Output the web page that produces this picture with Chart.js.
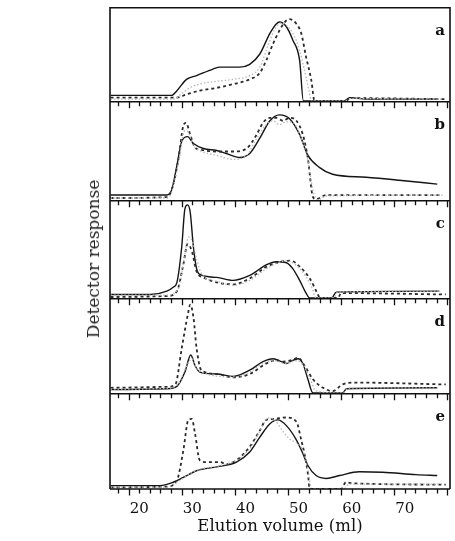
<!DOCTYPE html>
<html>
<head>
<meta charset="utf-8">
<script src="https://cdn.jsdelivr.net/npm/chart.js@4.4.1/dist/chart.umd.min.js"></script>
<style>
  body { margin: 0; background: #fff; }
  #wrap { position: relative; width: 455px; height: 541px; background: #fff; overflow: hidden; }
  #wrap canvas { position: absolute; left: 100px; }
  #ylab {
    position: absolute; left: 93px; top: 259px;
    transform: translate(-50%, -50%) rotate(-90deg);
    white-space: nowrap; font: 17px "DejaVu Serif", serif; color: #222;
  }
</style>
</head>
<body>
<div id="wrap">
  <canvas id="pa"></canvas>
  <canvas id="pb"></canvas>
  <canvas id="pc"></canvas>
  <canvas id="pd"></canvas>
  <canvas id="pe"></canvas>
  <div id="ylab">Detector response</div>
</div>
<script>
// elution volume (ml) vs normalised detector response
var xTickLabels = [20, 30, 40, 50, 60, 70];
var panelLetters = ['a', 'b', 'c', 'd', 'e'];

var aSolid = [[14.6,.06],[26.1,.06],[27.1,.11],[28.9,.23],[30.8,.27],[33.9,.34],[35.2,.36],[38.9,.36],[40.8,.39],[42.7,.50],[44.6,.72],[45.8,.82],[46.4,.84],[47.7,.79],[48.9,.65],[50.2,.43],[50.9,0],[58.6,0],[59.6,.036],[62.7,.02],[75.8,.02]];
var aDashed = [[14.6,.036],[27.1,.036],[28.9,.07],[31.4,.11],[34.6,.14],[37.7,.18],[40.8,.23],[42.7,.30],[43.9,.43],[45.2,.61],[46.4,.75],[47.4,.84],[48.3,.87],[49.6,.82],[50.5,.72],[51.4,.47],[52.4,.22],[53.0,0],[58.8,0],[59.8,.03],[77.5,.02]];
var aDotted = [[14.6,.02],[26.6,.02],[28.0,.08],[29.8,.15],[31.4,.18],[34.6,.21],[37.7,.23],[40.8,.27],[42.7,.36],[44.3,.60],[45.5,.76],[46.7,.83],[48.0,.79],[49.6,.64],[50.8,.40],[52.0,.10],[52.4,0],[58.6,0],[59.8,.025],[77,.02]];

var bSolid = [[14.6,.05],[25.2,.05],[26.1,.10],[27.1,.35],[28.0,.59],[29.1,.64],[30.2,.57],[32.1,.52],[34.6,.50],[36.4,.47],[38.9,.43],[40.8,.47],[42.7,.625],[44.6,.80],[46.4,.86],[48.3,.82],[50.2,.66],[51.75,.45],[53.9,.33],[56.4,.26],[62.7,.23],[68.9,.20],[76.1,.16]];
var bDashed = [[14.6,.02],[25.2,.03],[26.1,.10],[27.4,.42],[28.3,.75],[28.8,.78],[29.6,.66],[30.5,.53],[31.4,.51],[34.6,.49],[37.7,.49],[40.2,.52],[42.1,.66],[43.3,.78],[44.6,.83],[45.8,.83],[47.1,.80],[48.3,.83],[49.6,.80],[50.8,.66],[51.75,.42],[52.7,.03],[53.3,.01],[55.2,.05],[77.1,.05]];
var bDotted = [[14.6,.02],[25.2,.02],[26.1,.08],[27.4,.38],[28.6,.70],[29.3,.68],[30.2,.55],[31.4,.50],[34.6,.45],[37.7,.41],[40.2,.45],[42.1,.62],[43.9,.76],[45.2,.80],[46.4,.76],[47.7,.79],[49.0,.78],[50.5,.62],[51.75,.40],[52.7,.10],[53.6,0],[55.2,.04],[77,.05]];

var cSolid = [[14.6,.036],[22.1,.036],[25.2,.07],[26.4,.11],[27.1,.16],[28.0,.52],[28.6,.91],[29.1,.95],[29.6,.875],[30.2,.52],[30.8,.30],[31.4,.24],[34.6,.21],[37.7,.18],[40.8,.23],[44.0,.34],[45.8,.37],[47.7,.36],[48.9,.30],[50.2,.18],[51.4,.05],[52.1,0],[56.2,0],[57.1,.06],[76.5,.07]];
var cDashed = [[14.6,.01],[25.2,.02],[27.1,.07],[28.3,.34],[29.1,.55],[29.9,.48],[30.8,.27],[32.1,.21],[37.7,.14],[40.8,.20],[44.0,.32],[47.1,.375],[48.6,.38],[50.2,.32],[52.1,.20],[53.6,.04],[54.0,0],[57.4,0],[58.0,.05],[77.7,.036]];
var cDotted = [[14.6,.03],[25.2,.03],[27.4,.10],[28.6,.45],[29.3,.62],[30.0,.58],[30.8,.40],[31.8,.24],[34.6,.17],[37.7,.13],[40.8,.18],[44.0,.30],[47.7,.38],[50.2,.30],[52.4,.12],[53.3,0],[56.5,0],[57.4,.06],[76.5,.07]];

var dSolid = [[14.6,.036],[25.2,.044],[27.1,.07],[28.6,.22],[29.7,.40],[30.5,.29],[31.4,.22],[34.6,.20],[37.7,.175],[40.8,.24],[43.3,.33],[45.2,.36],[46.8,.33],[47.7,.31],[48.6,.335],[49.9,.36],[50.8,.31],[51.75,.145],[52.7,0],[58.3,0],[59.0,.044],[76.1,.055]];
var dDashed = [[14.6,.055],[25.2,.065],[26.8,.09],[28.0,.47],[29.2,.84],[29.6,.93],[30.2,.80],[30.8,.47],[31.7,.24],[34.6,.20],[37.7,.165],[40.8,.20],[43.9,.31],[45.8,.345],[47.1,.33],[48.6,.345],[49.9,.37],[51.1,.29],[52.7,.145],[54.6,.055],[56.4,.02],[58.3,.09],[60.2,.11],[77.7,.09]];
var dDotted = [[14.6,.04],[25.2,.05],[27.4,.10],[28.9,.28],[29.9,.36],[30.8,.26],[31.7,.22],[37.7,.17],[40.8,.22],[43.3,.31],[45.5,.34],[47.4,.31],[49.6,.34],[50.8,.30],[52.1,.16],[53.3,.02],[58.3,0],[59.3,.05],[76,.055]];

var eSolid = [[14.6,.035],[23.9,.035],[26.4,.07],[28.3,.12],[30.8,.19],[34.6,.23],[38.3,.28],[40.8,.385],[42.7,.54],[44.6,.68],[46.1,.72],[47.7,.66],[49.6,.51],[50.8,.37],[51.75,.245],[53.3,.14],[55.2,.11],[57.7,.14],[61.4,.18],[65.8,.175],[72.1,.15],[76.1,.14]];
var eDashed = [[14.6,.017],[25.2,.025],[27.1,.09],[28.3,.40],[29.25,.72],[29.9,.73],[30.5,.58],[31.4,.30],[32.7,.28],[35.2,.28],[36.4,.26],[38.3,.30],[40.8,.44],[42.7,.61],[43.9,.72],[45.2,.73],[47.7,.745],[49.6,.70],[50.5,.51],[51.1,.37],[51.75,.16],[52.1,0],[58.0,0],[58.9,.07],[60.2,.06],[77.7,.045]];
var eDotted = [[14.6,.02],[25.2,.02],[27.4,.08],[29.0,.14],[31.0,.20],[35.0,.24],[38.3,.30],[40.8,.42],[42.7,.60],[44.3,.74],[45.5,.72],[46.8,.62],[48.3,.52],[49.9,.47],[51.1,.36],[51.9,.15],[52.4,0],[58.5,0],[59.5,.05],[77,.05]];

var panelSeries = [
  [aSolid, aDashed, aDotted],
  [bSolid, bDashed, bDotted],
  [cSolid, cDashed, cDotted],
  [dSolid, dDashed, dDotted],
  [eSolid, eDashed, eDotted]
];

// layout (px): canvases butt against each other, no overlap
var panelTop = [7, 101, 200, 298, 393];
var panelBottom = [101, 200, 298, 393, 489];
var ids = ['pa', 'pb', 'pc', 'pd', 'pe'];

function tickRow(ctx, xs, y) {
  ctx.beginPath();
  for (var v = 16; v <= 78; v += 2) {
    var px = Math.round(xs.getPixelForValue(v)) + 0.5;
    var len = ((v - 8) % 10 === 0) ? 6.5 : 4.5;
    ctx.moveTo(px, y);
    ctx.lineTo(px, y + len);
  }
  ctx.stroke();
}

function makeFrame(letter, first, last) {
  return {
    id: 'frameTicks',
    afterDraw: function(chart) {
      var ctx = chart.ctx, a = chart.chartArea, xs = chart.scales.x;
      ctx.save();
      ctx.strokeStyle = '#111';
      ctx.lineWidth = 1.6;
      var yTop = a.top + 0.8;
      ctx.beginPath();
      ctx.moveTo(a.left, yTop); ctx.lineTo(a.right, yTop);
      ctx.moveTo(a.left, a.top); ctx.lineTo(a.left, a.bottom);
      ctx.moveTo(a.right, a.top); ctx.lineTo(a.right, a.bottom);
      if (last) { ctx.moveTo(a.left, a.bottom); ctx.lineTo(a.right, a.bottom); }
      ctx.stroke();
      ctx.lineWidth = 1.3;
      // the axis above this panel has its ticks hanging down into it
      if (!first) tickRow(ctx, xs, yTop);
      if (last) tickRow(ctx, xs, a.bottom);
      ctx.fillStyle = '#111';
      ctx.font = 'bold 15px "DejaVu Serif", serif';
      ctx.textAlign = 'right';
      ctx.textBaseline = 'alphabetic';
      ctx.fillText(letter, a.right - 5, a.top + 28);
      ctx.restore();
    }
  };
}

function lineSet(pts, kind) {
  var ds = {
    data: pts.map(function(p) { return { x: p[0], y: p[1] }; }),
    pointRadius: 0,
    fill: false,
    cubicInterpolationMode: 'monotone'
  };
  if (kind === 0) { ds.borderColor = '#141414'; ds.borderWidth = 1.4; }
  if (kind === 1) { ds.borderColor = '#2a2a2a'; ds.borderWidth = 1.8; ds.borderDash = [3, 3]; }
  if (kind === 2) { ds.borderColor = '#b8b8b8'; ds.borderWidth = 1.3; ds.borderDash = [1.5, 2]; }
  return ds;
}

function makePanel(i) {
  var first = (i === 0), last = (i === 4);
  var cv = document.getElementById(ids[i]);
  var cTop = first ? 0 : panelTop[i];
  var cBottom = last ? 541 : panelBottom[i];
  cv.width = 355; cv.height = cBottom - cTop;
  cv.style.top = cTop + 'px';

  var xScale = {
    type: 'linear',
    min: 14.5,
    max: 78.5,
    display: last,
    grid: { display: false },
    border: { display: false },
    afterBuildTicks: function(scale) {
      scale.ticks = xTickLabels.map(function(v) { return { value: v }; });
    },
    ticks: {
      padding: 3,
      color: '#111',
      font: { family: 'DejaVu Serif', size: 15 }
    },
    title: {
      display: true,
      text: 'Elution volume (ml)',
      color: '#111',
      padding: { top: 0, bottom: 4 },
      font: { family: 'DejaVu Serif', size: 16.5 }
    }
  };
  if (last) xScale.afterFit = function(scale) { scale.height = 541 - panelBottom[4]; };

  var s = panelSeries[i];
  new Chart(cv, {
    type: 'line',
    data: { datasets: [lineSet(s[2], 2), lineSet(s[1], 1), lineSet(s[0], 0)] },
    options: {
      responsive: false,
      animation: false,
      devicePixelRatio: 1,
      layout: { padding: { left: 10, right: 5, top: first ? panelTop[0] : 0, bottom: 0 } },
      plugins: {
        legend: { display: false },
        tooltip: { enabled: false }
      },
      scales: {
        x: xScale,
        y: { display: false, min: 0, max: 1 }
      }
    },
    plugins: [makeFrame(panelLetters[i], first, last)]
  });
}

for (var k = 0; k < 5; k++) makePanel(k);
</script>
</body>
</html>
